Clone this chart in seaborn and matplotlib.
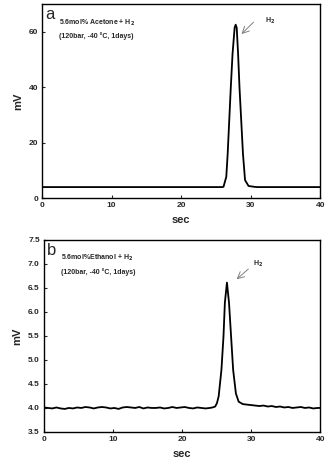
"""Gas chromatograms of H2 released from hydrate samples (acetone / ethanol)."""

import matplotlib
matplotlib.use("Agg")
import matplotlib.pyplot as plt
import pandas as pd
import seaborn as sns

# panel a: 5.6 mol% acetone + H2
TIME_A = [0, 5, 10, 15, 20, 25, 25.9, 26.1, 26.5, 26.7, 27.15, 27.4, 27.7,
          27.85, 28.0, 28.2, 28.4, 28.9, 29.2, 29.7, 30.5, 31.0, 35, 40]
MV_A = [4.0, 4.0, 4.0, 4.0, 4.0, 4.0, 4.0, 4.1, 7.7, 16, 40, 52, 61.5,
        62.6, 61.5, 52, 40, 16, 6.5, 4.4, 4.1, 4.0, 4.0, 4.0]

# panel b: 5.6 mol% ethanol + H2 (noisy baseline)
TIME_B = [0, 0.6, 1.2, 1.8, 2.4, 3.0, 3.6, 4.2, 4.8, 5.4, 6.0, 6.6, 7.2, 7.8,
          8.4, 9.0, 9.6, 10.2, 10.8, 11.4, 12.0, 12.6, 13.2, 13.8, 14.4, 15.0,
          15.6, 16.2, 16.8, 17.4, 18.0, 18.6, 19.2, 19.8, 20.4, 21.0, 21.6,
          22.2, 22.8, 23.4, 24.0, 24.4, 24.8, 25.05, 25.3, 25.7, 26.0, 26.2,
          26.5, 26.8, 27.1, 27.4, 27.8, 28.2, 28.8, 29.4, 30.0, 30.6, 31.2,
          31.8, 32.4, 33.0, 33.6, 34.2, 34.8, 35.4, 36.0, 36.6, 37.2, 37.8,
          38.4, 39.0, 39.6, 40.0]
MV_B = [4.01, 4.00, 3.99, 4.01, 3.99, 3.98, 4.00, 3.99, 4.01, 4.00, 4.02, 4.01,
        3.99, 4.01, 4.02, 4.01, 3.99, 4.00, 3.98, 4.01, 4.02, 4.01, 4.00, 4.02,
        3.99, 4.01, 4.00, 4.00, 4.01, 3.99, 4.00, 4.02, 4.00, 4.01, 4.02, 4.00,
        3.99, 4.01, 4.00, 3.99, 4.00, 4.01, 4.03, 4.10, 4.24, 4.79, 5.49, 6.19,
        6.61, 6.19, 5.49, 4.79, 4.30, 4.13, 4.08, 4.07, 4.06, 4.05, 4.04,
        4.05, 4.03, 4.04, 4.02, 4.03, 4.01, 4.02, 4.00, 4.01, 4.02, 4.00,
        4.01, 3.99, 4.00, 4.00]

X_TICKS = [0, 10, 20, 30, 40]
Y_TICKS_A = [0, 20, 40, 60]
Y_TICKS_B = [3.5, 4.0, 4.5, 5.0, 5.5, 6.0, 6.5, 7.0, 7.5]

sns.set_theme(style="ticks")
plt.rcParams["font.family"] = ["Liberation Sans", "DejaVu Sans"]
plt.rcParams["font.weight"] = "bold"

fig = plt.figure(figsize=(3.26, 4.63), dpi=100)
ax_a = fig.add_axes([0.129, 0.572, 0.853, 0.419])
ax_b = fig.add_axes([0.135, 0.067, 0.847, 0.415])

panels = [
    (ax_a, TIME_A, MV_A, (0, 70), Y_TICKS_A, "{:.0f}", "a",
     "5.6mol% Acetone + H$_2$", (28.4, 58.5), (30.7, 64.2), (32.0, 64.0)),
    (ax_b, TIME_B, MV_B, (3.5, 7.5), Y_TICKS_B, "{:.1f}", "b",
     "5.6mol%Ethanol + H$_2$", (27.6, 6.64), (29.9, 6.93), (30.3, 7.0)),
]

for ax, t, mv, ylim, yticks, fmt, letter, title, tip, tail, htxt in panels:
    df = pd.DataFrame({"sec": t, "mV": mv})
    sns.lineplot(data=df, x="sec", y="mV", ax=ax, color="black", linewidth=1.3)
    ax.set_xlim(0, 40)
    ax.set_ylim(*ylim)
    ax.set_xticks(X_TICKS)
    ax.set_xticklabels([str(v) for v in X_TICKS])
    ax.set_yticks(yticks)
    ax.set_yticklabels([fmt.format(v) for v in yticks])
    ax.tick_params(direction="in", length=2.5, width=0.8, labelsize=6, pad=3)
    for s in ax.spines.values():
        s.set_linewidth(1.0)
        s.set_color("black")
    ax.set_xlabel("sec", fontsize=8, fontweight="bold", labelpad=4)
    ax.set_ylabel("mV", fontsize=8, fontweight="bold", labelpad=4)
    ax.text(0.012, 0.985, letter, transform=ax.transAxes, fontsize=12,
            fontweight="normal", va="top", ha="left")
    ax.text(0.06, 0.93, title, transform=ax.transAxes, fontsize=5,
            fontweight="bold", va="top", ha="left")
    ax.text(0.06, 0.855, "(120bar, -40 \u00b0C, 1days)", transform=ax.transAxes,
            fontsize=5, fontweight="bold", va="top", ha="left")
    ax.annotate("", xy=tip, xytext=tail,
                arrowprops=dict(arrowstyle="->", color="gray", lw=0.7))
    ax.text(htxt[0], htxt[1], "H$_2$", fontsize=5, fontweight="bold",
            va="center", ha="left")

fig.savefig("out.png", dpi=100)
